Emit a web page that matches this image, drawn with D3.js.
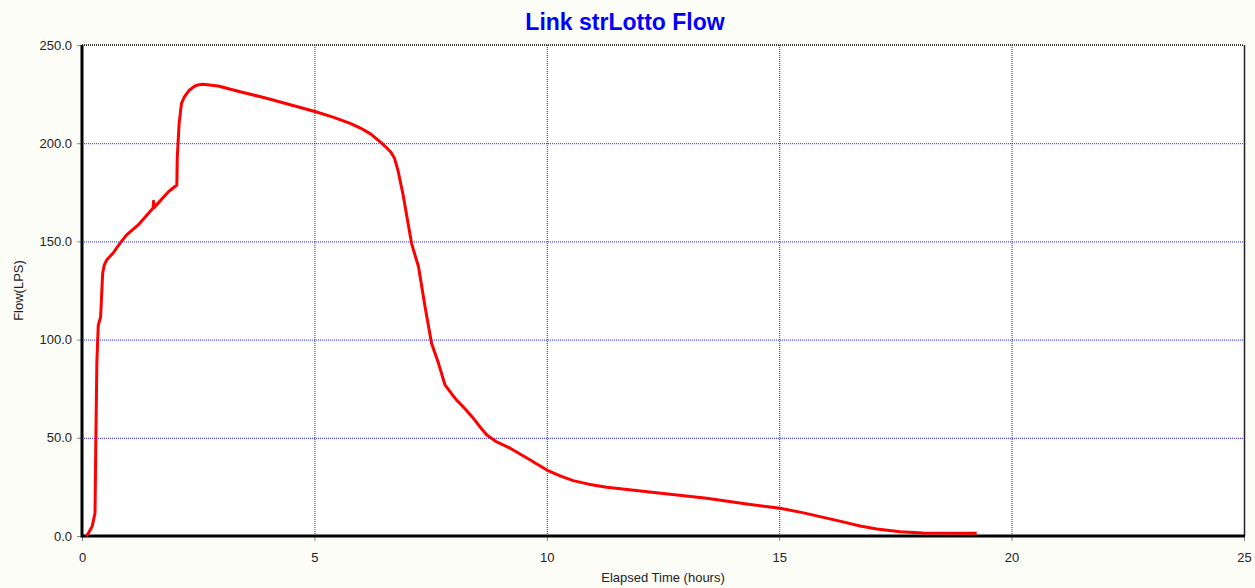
<!DOCTYPE html>
<html>
<head>
<meta charset="utf-8">
<script src="https://cdn.jsdelivr.net/npm/d3@7"></script>
<style>
  body { margin: 0; background: #fdfdf8; }
  svg { display: block; }
  text { font-family: Arial, "Liberation Sans", sans-serif; }
</style>
</head>
<body>
<div id="chart"></div>
<script>
// donnees
const titre = "Link strLotto Flow";
const labelX = "Elapsed Time (hours)";
const labelY = "Flow(LPS)";
const ticksX = [0, 5, 10, 15, 20, 25];
const ticksY = [0, 50, 100, 150, 200, 250];

const heures = [0.09, 0.14, 0.22, 0.28, 0.30, 0.32, 0.35, 0.40, 0.445, 0.48, 0.53, 0.60, 0.67, 0.80, 0.96, 1.21, 1.53, 1.54, 1.55, 1.86, 2.04, 2.05, 2.09, 2.14, 2.20, 2.30, 2.43, 2.52, 2.60, 2.93, 3.40, 3.97, 5.03, 5.40, 5.77, 6.00, 6.20, 6.41, 6.55, 6.65, 6.72, 6.80, 6.91, 7.09, 7.24, 7.38, 7.52, 7.67, 7.81, 7.95, 8.06, 8.25, 8.42, 8.60, 8.71, 8.90, 9.21, 9.60, 10.0, 10.3, 10.57, 10.9, 11.29, 12.36, 13.44, 14.30, 15.02, 15.5, 15.95, 16.35, 16.74, 17.1, 17.6, 18.1, 19.25];
const debits = [0, 1.5, 5, 11.7, 52.4, 88.6, 107.4, 111.5, 133.9, 138.0, 140.5, 142.3, 144.1, 148.5, 153.3, 158.4, 167.0, 170.5, 167.2, 175.3, 178.7, 193.1, 210.1, 220.3, 223.5, 226.8, 229.1, 229.8, 230.0, 229.1, 226.2, 222.9, 216.0, 213.3, 210.1, 207.6, 204.9, 200.8, 197.8, 195.3, 192.5, 186.0, 173.5, 149.0, 137.1, 116.8, 98.1, 87.9, 76.9, 72.5, 69.2, 64.5, 59.9, 54.5, 51.4, 48.2, 44.7, 39.3, 33.6, 30.5, 28.2, 26.4, 24.8, 22.0, 19.2, 16.3, 14.1, 11.9, 9.5, 7.3, 5.1, 3.6, 2.2, 1.5, 1.4];

const width = 1255;
const height = 588;
const marge = {left: 82, right: 11, top: 45, bottom: 52};

const svg = d3.select("#chart")
    .append("svg")
    .attr("width", width)
    .attr("height", height);

const x = d3.scaleLinear().domain([0, 25]).range([marge.left, width - marge.right]);
const y = d3.scaleLinear().domain([0, 250]).range([height - marge.bottom, marge.top]);

// fond du graphique
svg.append("rect")
    .attr("x", x(0)).attr("y", y(250))
    .attr("width", x(25) - x(0)).attr("height", y(0) - y(250))
    .attr("fill", "#fff");

// grille bleue pointillee
svg.selectAll(".gx")
    .data(ticksX)
    .enter().append("line")
    .attr("x1", d => x(d) + 0.5).attr("x2", d => x(d) + 0.5)
    .attr("y1", y(250)).attr("y2", y(0))
    .attr("stroke", "#2020ff").attr("stroke-width", 1)
    .attr("stroke-dasharray", "1,1");
svg.selectAll(".gy")
    .data(ticksY)
    .enter().append("line")
    .attr("x1", x(0)).attr("x2", x(25))
    .attr("y1", d => y(d) + 0.5).attr("y2", d => y(d) + 0.5)
    .attr("stroke", "#2020ff").attr("stroke-width", 1)
    .attr("stroke-dasharray", "1,1");

// cadre: haut et droite
svg.append("line")
    .attr("x1", x(0)).attr("x2", x(25)).attr("y1", y(250) - 0.5).attr("y2", y(250) - 0.5)
    .attr("stroke", "#444").attr("stroke-width", 1).attr("stroke-dasharray", "1,1");
svg.append("line")
    .attr("x1", x(25) + 0.5).attr("x2", x(25) + 0.5).attr("y1", y(250)).attr("y2", y(0))
    .attr("stroke", "#222").attr("stroke-width", 1.5);

// axes
const axeX = d3.axisBottom(x).tickValues(ticksX).tickSize(5).tickFormat(d3.format("d"));
const axeY = d3.axisLeft(y).tickValues(ticksY).tickSize(5).tickFormat(d3.format(".1f"));

const gx = svg.append("g").attr("transform", `translate(0,${y(0)})`).call(axeX);
const gy = svg.append("g").attr("transform", `translate(${x(0)},0)`).call(axeY);

[gx, gy].forEach(g => {
    g.select(".domain").remove();
    g.selectAll(".tick line").attr("stroke", "#888");
    g.selectAll(".tick text").attr("fill", "#222").style("font-size", "13px");
});
gx.selectAll(".tick text").attr("dy", "1.4em");
gy.selectAll(".tick text").attr("dx", "-2px");

// traits noirs epais des axes
svg.append("line")
    .attr("x1", x(0)).attr("x2", x(0)).attr("y1", y(250)).attr("y2", y(0) + 1.5)
    .attr("stroke", "#000").attr("stroke-width", 3);
svg.append("line")
    .attr("x1", x(0)).attr("x2", x(25) + 1).attr("y1", y(0)).attr("y2", y(0))
    .attr("stroke", "#000").attr("stroke-width", 3);

// courbe du debit
const ligne = d3.line()
    .x((d, i) => x(heures[i]))
    .y(d => y(d));

svg.append("path")
    .attr("d", ligne(debits))
    .attr("fill", "none")
    .attr("stroke", "#ff0000")
    .attr("stroke-width", 3)
    .attr("stroke-linejoin", "round");

// titres
svg.append("text")
    .attr("x", 625).attr("y", 30)
    .attr("text-anchor", "middle")
    .attr("fill", "#0000ff")
    .style("font-size", "23px").style("font-weight", "bold")
    .text(titre);

svg.append("text")
    .attr("x", (x(0) + x(25)) / 2).attr("y", 582)
    .attr("text-anchor", "middle")
    .attr("fill", "#222")
    .style("font-size", "13px")
    .text(labelX);

svg.append("text")
    .attr("transform", `translate(23,${(y(0) + y(250)) / 2}) rotate(-90)`)
    .attr("text-anchor", "middle")
    .attr("fill", "#222")
    .style("font-size", "13px")
    .text(labelY);
</script>
</body>
</html>
